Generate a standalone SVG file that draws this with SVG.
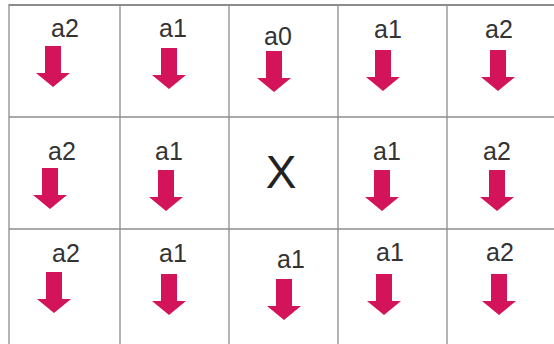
<svg xmlns="http://www.w3.org/2000/svg" xmlns:xlink="http://www.w3.org/1999/xlink" width="554" height="344" viewBox="0 0 554 344">
<style>
.grid{stroke:#8c8c8c;stroke-width:1.3;fill:none}
.lbl{font-family:"Liberation Sans",Arial,sans-serif;font-size:25px;fill:#333;text-anchor:middle}
.x{font-family:"Liberation Sans",Arial,sans-serif;font-size:46px;fill:#222;text-anchor:middle}
.arr{fill:#d4145a}
</style>
<defs>
<path id="arr" d="M-8,0 H8 V27 H17 L0,41 L-17,27 H-8 Z"/>
</defs>
<rect width="554" height="344" fill="#ffffff"/>
<g id="connectors" class="grid">
<line x1="9" y1="5" x2="554" y2="5" stroke-width="2"/>
<line x1="9" y1="117" x2="554" y2="117"/>
<line x1="9" y1="229" x2="554" y2="229"/>
<line x1="9" y1="4" x2="9" y2="344"/>
<line x1="120" y1="5" x2="120" y2="344"/>
<line x1="229" y1="5" x2="229" y2="344"/>
<line x1="338" y1="5" x2="338" y2="344"/>
<line x1="447" y1="5" x2="447" y2="344"/>
</g>
<g id="r1c1"><text class="lbl" x="65" y="37">a2</text><use class="arr" href="#arr" x="53" y="46"/></g>
<g id="r1c2"><text class="lbl" x="173" y="37">a1</text><use class="arr" href="#arr" x="169" y="48"/></g>
<g id="r1c3"><text class="lbl" x="278" y="45">a0</text><use class="arr" href="#arr" x="274" y="51"/></g>
<g id="r1c4"><text class="lbl" x="388" y="38">a1</text><use class="arr" href="#arr" x="383" y="50"/></g>
<g id="r1c5"><text class="lbl" x="499" y="38">a2</text><use class="arr" href="#arr" x="498" y="50"/></g>
<g id="r2c1"><text class="lbl" x="62" y="160">a2</text><use class="arr" href="#arr" x="50" y="168"/></g>
<g id="r2c2"><text class="lbl" x="169" y="160">a1</text><use class="arr" href="#arr" x="166" y="170"/></g>
<g id="r2c3"><text class="x" x="281" y="188">X</text></g>
<g id="r2c4"><text class="lbl" x="387" y="160">a1</text><use class="arr" href="#arr" x="382" y="170"/></g>
<g id="r2c5"><text class="lbl" x="497" y="160">a2</text><use class="arr" href="#arr" x="497" y="170"/></g>
<g id="r3c1"><text class="lbl" x="66" y="262">a2</text><use class="arr" href="#arr" x="54" y="272"/></g>
<g id="r3c2"><text class="lbl" x="173" y="262">a1</text><use class="arr" href="#arr" x="169" y="274"/></g>
<g id="r3c3"><text class="lbl" x="291" y="268">a1</text><use class="arr" href="#arr" x="284" y="279"/></g>
<g id="r3c4"><text class="lbl" x="390" y="261">a1</text><use class="arr" href="#arr" x="384" y="274"/></g>
<g id="r3c5"><text class="lbl" x="500" y="261">a2</text><use class="arr" href="#arr" x="499" y="274"/></g>
</svg>
